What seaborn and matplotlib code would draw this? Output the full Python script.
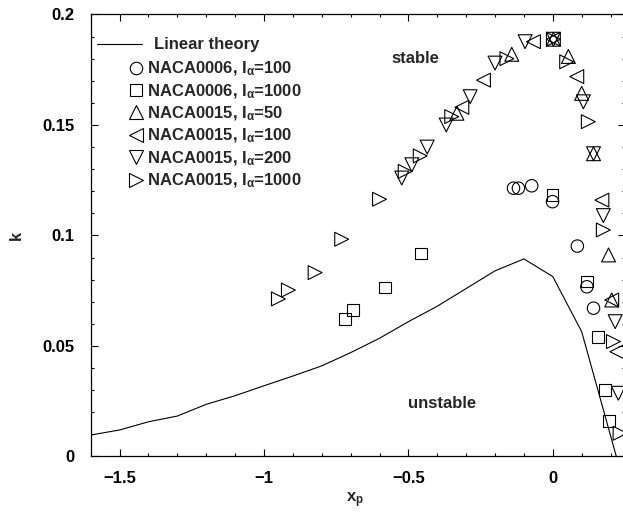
# -*- coding: utf-8 -*-
"""Reduced frequency k versus pivot position x_p: linear theory and simulations."""
import numpy as np
import pandas as pd
import matplotlib
matplotlib.use("Agg")
import matplotlib.pyplot as plt
from matplotlib.lines import Line2D
from matplotlib.ticker import MultipleLocator, FuncFormatter
import seaborn as sns

# linear theory curve
lin_x = [-1.6, -1.5, -1.4, -1.3, -1.2, -1.1, -1.0, -0.9, -0.8, -0.7, -0.6,
         -0.5, -0.4, -0.3, -0.2, -0.1, 0.0, 0.1, 0.22]
lin_k = [0.0097, 0.012, 0.0157, 0.0183, 0.0236, 0.0275, 0.032, 0.0364, 0.041,
         0.047, 0.0535, 0.061, 0.068, 0.076, 0.084, 0.0894, 0.0814, 0.0565, 0.0]

# NACA0006, I_alpha = 100 (circles)
c100_x = [-0.136, -0.119, -0.073, -0.001, 0.085, 0.118, 0.141]
c100_k = [0.1214, 0.1214, 0.1225, 0.1153, 0.0952, 0.0768, 0.0671]

# NACA0006, I_alpha = 1000 (squares)
c1000_x = [-0.719, -0.6925, -0.5807, -0.456, -0.001, 0.1177, 0.156, 0.181, 0.195]
c1000_k = [0.0622, 0.0663, 0.0764, 0.0918, 0.1183, 0.0791, 0.0542, 0.0301, 0.0161]

# NACA0015, I_alpha = 50 (up triangles)
t50_x = [-0.332, -0.142, 0.002, 0.054, 0.100, 0.141, 0.193, 0.204]
t50_k = [0.1553, 0.182, 0.1888, 0.181, 0.1643, 0.137, 0.0912, 0.0708]

# NACA0015, I_alpha = 100 (left triangles)
t100_x = [-0.315, -0.240, -0.067, 0.002, 0.083, 0.170, 0.204, 0.222]
t100_k = [0.158, 0.1703, 0.1877, 0.1888, 0.1719, 0.116, 0.0708, 0.0474]

# NACA0015, I_alpha = 200 (down triangles)
t200_x = [-0.523, -0.488, -0.435, -0.369, -0.286, -0.200, -0.096, 0.002,
          0.106, 0.141, 0.175, 0.216, 0.227]
t200_k = [0.126, 0.132, 0.140, 0.150, 0.1628, 0.178, 0.1877, 0.1888,
          0.1605, 0.137, 0.109, 0.061, 0.0286]

# NACA0015, I_alpha = 1000 (right triangles)
t1000_x = [-0.950, -0.9155, -0.823, -0.731, -0.600, -0.511, -0.459, -0.350,
           -0.159, 0.002, 0.048, 0.123, 0.175, 0.210, 0.233]
t1000_k = [0.0713, 0.0753, 0.0832, 0.0983, 0.1164, 0.129, 0.136, 0.1538,
           0.180, 0.1888, 0.1786, 0.1515, 0.1025, 0.052, 0.0105]

series = [
    (r"NACA0006, I$_\alpha$=100", c100_x, c100_k, "o", 80),
    (r"NACA0006, I$_\alpha$=1000", c1000_x, c1000_k, "s", 70),
    (r"NACA0015, I$_\alpha$=50", t50_x, t50_k, "^", 100),
    (r"NACA0015, I$_\alpha$=100", t100_x, t100_k, "<", 100),
    (r"NACA0015, I$_\alpha$=200", t200_x, t200_k, "v", 100),
    (r"NACA0015, I$_\alpha$=1000", t1000_x, t1000_k, ">", 100),
]

sns.set_style("ticks")
plt.rcParams["font.family"] = ["Liberation Sans", "DejaVu Sans"]
plt.rcParams["font.weight"] = "bold"
plt.rcParams["axes.labelweight"] = "bold"
plt.rcParams["mathtext.fontset"] = "custom"
plt.rcParams["mathtext.rm"] = "Liberation Sans"
plt.rcParams["mathtext.it"] = "Liberation Sans:italic"
plt.rcParams["mathtext.bf"] = "Liberation Sans:bold"
plt.rcParams["mathtext.default"] = "regular"

fig = plt.figure(figsize=(6.23, 5.14), dpi=100)
ax = fig.add_axes([0.1456, 0.1119, 0.8576, 0.8599])

sns.lineplot(x=lin_x, y=lin_k, color="k", lw=0.8, ax=ax, sort=False)

for label, xs, ks, m, s in series:
    sns.scatterplot(x=xs, y=ks, marker=m, s=s, color="k", ax=ax)
    pts = ax.collections[-1]
    pts.set_facecolor("none")
    pts.set_edgecolor("k")
    pts.set_linewidth(0.8)

ax.set_xlim(-1.6, 0.25)
ax.set_ylim(0, 0.2)

ax.xaxis.set_major_locator(MultipleLocator(0.5))
ax.xaxis.set_minor_locator(MultipleLocator(0.1))
ax.yaxis.set_major_locator(MultipleLocator(0.05))
ax.yaxis.set_minor_locator(MultipleLocator(0.01))


def fmt(v, _):
    s = f"{v:g}"
    if s in ("-0", "0"):
        return "0"
    return s.replace("-", "\u2212")


ax.xaxis.set_major_formatter(FuncFormatter(fmt))
ax.yaxis.set_major_formatter(FuncFormatter(fmt))
ax.tick_params(which="both", direction="in", top=True, right=True,
               labelsize=12, width=0.8, colors="k")
ax.tick_params(which="major", length=5)
ax.tick_params(which="minor", length=2.5)
ax.tick_params(axis="x", which="major", pad=10.5)
ax.tick_params(axis="y", which="major", pad=11.5)
for sp in ax.spines.values():
    sp.set_linewidth(0.9)
    sp.set_color("k")

ax.set_xlabel(r"x$_\mathbf{p}$", fontsize=12)
ax.set_ylabel("k", fontsize=12)
ax.xaxis.set_label_coords(0.495, -0.076)
ax.yaxis.set_label_coords(-0.125, 0.5)

ax.text(-0.474, 0.180, "stable", fontsize=12, fontweight="bold",
        ha="center", va="center")
ax.text(-0.382, 0.0242, "unstable", fontsize=12, fontweight="bold",
        ha="center", va="center")

# gnuplot-style key: line entry, then marker entries
line_h = [Line2D([], [], color="k", lw=0.8)]
leg1 = ax.legend(line_h, ["Linear theory"], loc="upper left",
                 bbox_to_anchor=(0.0118, 0.948), frameon=False, fontsize=12,
                 handlelength=2.7, handletextpad=0.7, borderpad=0,
                 borderaxespad=0)
ax.add_artist(leg1)

mark_h = [Line2D([], [], ls="none", marker=m, ms=np.sqrt(s), mfc="none",
                 mec="k", mew=0.8) for _, _, _, m, s in series]
ax.legend(mark_h, [lab for lab, *_ in series], loc="upper left",
          bbox_to_anchor=(0.069, 0.8977), frameon=False, fontsize=12,
          handlelength=1.0, handletextpad=0.15, borderpad=0,
          borderaxespad=0, labelspacing=0.24)

fig.savefig("out.png", dpi=100)
